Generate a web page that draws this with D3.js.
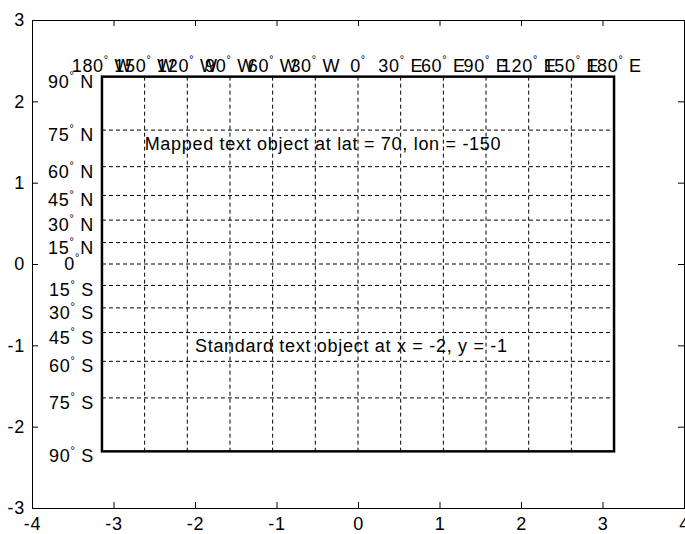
<!DOCTYPE html>
<html><head><meta charset="utf-8">
<script src="https://cdn.jsdelivr.net/npm/d3@7"></script>
<style>body{margin:0;background:#fff}text{font-family:"Liberation Sans",Arial,sans-serif;fill:#000;letter-spacing:0.7px}</style>
</head><body><svg id="c" width="685" height="534"></svg>
<script>
const xTicks=[-4,-3,-2,-1,0,1,2,3,4];
const yTicks=[-3,-2,-1,0,1,2,3];
const meridians=[-180,-150,-120,-90,-60,-30,0,30,60,90,120,150,180];
const parallels=[-90,-75,-60,-45,-30,-15,0,15,30,45,60,75,90];
const mappedText={lat:70,lon:-150,label:"Mapped text object at lat = 70, lon = -150"};
const standardText={x:-2,y:-1,label:"Standard text object at x = -2, y = -1"};

const W=685,H=534,m={l:32,r:1,t:20,b:26};
const svg=d3.select("#c");
const x=d3.scaleLinear().domain([-4,4]).range([m.l,W-m.r]);
const y=d3.scaleLinear().domain([-3,3]).range([H-m.b,m.t]);
// Miller cylindrical projection
const rad=d=>d*Math.PI/180;
const px=lon=>rad(lon);
const py=lat=>1.25*Math.log(Math.tan(Math.PI/4+0.4*rad(lat)));
const FS=18;
const fmt=d=>String(d);

// axes
const gx=svg.append("g").attr("transform",`translate(0,${y(-3)})`).call(d3.axisBottom(x).tickValues(xTicks).tickSize(-6).tickPadding(8).tickFormat(fmt));
const gxt=svg.append("g").attr("transform",`translate(0,${y(3)})`).call(d3.axisTop(x).tickValues(xTicks).tickSize(-6).tickFormat(""));
const gy=svg.append("g").attr("transform",`translate(${x(-4)},0)`).call(d3.axisLeft(y).tickValues(yTicks).tickSize(-6).tickPadding(7).tickFormat(fmt));
const gyr=svg.append("g").attr("transform",`translate(${x(4)},0)`).call(d3.axisRight(y).tickValues(yTicks).tickSize(-6).tickFormat(""));
[gx,gxt,gy,gyr].forEach(g=>{g.select(".domain").attr("stroke","#000").attr("stroke-width",1);g.selectAll(".tick line").attr("stroke","#000");g.selectAll("text").style("font-size",FS+"px").attr("font-family","Liberation Sans, Arial, sans-serif").attr("fill","#000");});
gx.selectAll("text").attr("dy","0.75em");

// graticule
const x0=x(px(-180)),x1=x(px(180)),y0=y(py(90)),y1=y(py(-90));
svg.append("g").selectAll("line.m").data(meridians.filter(d=>Math.abs(d)<180)).join("line")
 .attr("x1",d=>x(px(d))).attr("x2",d=>x(px(d))).attr("y1",y0).attr("y2",y1)
 .attr("stroke","#000").attr("stroke-width",1).attr("stroke-dasharray","4,3");
svg.append("g").selectAll("line.p").data(parallels.filter(d=>Math.abs(d)<90)).join("line")
 .attr("x1",x0).attr("x2",x1).attr("y1",d=>y(py(d))).attr("y2",d=>y(py(d)))
 .attr("stroke","#000").attr("stroke-width",1).attr("stroke-dasharray","4,3");
svg.append("rect").attr("x",x0).attr("y",y0).attr("width",x1-x0).attr("height",y1-y0)
 .attr("fill","none").attr("stroke","#000").attr("stroke-width",2.5);

function degLabel(sel,num,hemi){
  sel.append("tspan").text(num);
  sel.append("tspan").attr("font-size",(FS*0.6)+"px").attr("dy","-0.8em").text("°");
  if(hemi) sel.append("tspan").attr("dy","0.48em").attr("font-size",FS+"px").text(" "+hemi);
}
// meridian labels
svg.append("g").selectAll("text").data(meridians).join("text")
 .attr("x",d=>x(px(d))).attr("y",y0-5).attr("text-anchor","middle").style("font-size",FS+"px")
 .each(function(d){degLabel(d3.select(this),Math.abs(d),d<0?"W":d>0?"E":"");});
// parallel labels
svg.append("g").selectAll("text").data(parallels).join("text")
 .attr("x",d=>d===0?x0-22:x0-8).attr("y",d=>y(py(d))+(d===0?6:11)).attr("text-anchor","end").style("font-size",FS+"px")
 .each(function(d){degLabel(d3.select(this),Math.abs(d),d<0?"S":d>0?"N":"");});

svg.append("text").attr("x",x(px(mappedText.lon))).attr("y",y(py(mappedText.lat))).attr("dy","0.35em")
 .style("font-size",FS+"px").text(mappedText.label);
svg.append("text").attr("x",x(standardText.x)).attr("y",y(standardText.y)).attr("dy","0.35em")
 .style("font-size",FS+"px").text(standardText.label);
</script></body></html>
